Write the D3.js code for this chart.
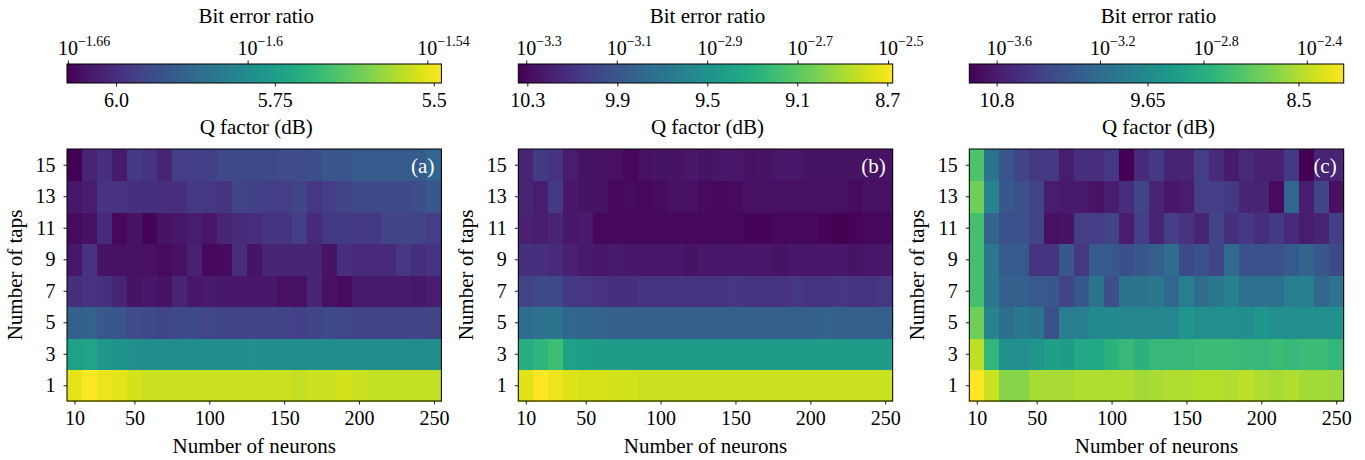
<!DOCTYPE html>
<html>
<head>
<meta charset="utf-8">
<script src="https://cdn.jsdelivr.net/npm/d3@7"></script>
<style>
  body { margin: 0; background: #fff; }
  svg { display: block; }
</style>
</head>
<body>
<svg id="chart" width="1365" height="460"></svg>
<script>
// ---------------- data ----------------
const neurons = [10,20,30,40,50,60,70,80,90,100,110,120,130,140,150,160,170,180,190,200,210,220,230,240,250];
const taps = [1,3,5,7,9,11,13,15];
const xTickValues = [10,50,100,150,200,250];

// Q factor (dB); one row per entry of `taps`, one column per entry of `neurons`
const qFactorA = [
  [5.512,5.488,5.506,5.512,5.529,5.535,5.535,5.535,5.535,5.535,5.535,5.535,5.535,5.535,5.535,5.541,5.535,5.535,5.529,5.535,5.541,5.541,5.541,5.541,5.541],
  [5.741,5.735,5.765,5.771,5.783,5.788,5.788,5.794,5.788,5.788,5.788,5.788,5.783,5.788,5.788,5.788,5.788,5.788,5.788,5.788,5.788,5.788,5.788,5.794,5.788],
  [5.900,5.894,5.918,5.924,5.942,5.947,5.959,5.947,5.947,5.953,5.959,5.959,5.959,5.959,5.959,5.965,5.959,5.947,5.953,5.959,5.959,5.959,5.959,5.959,5.959],
  [5.995,5.989,5.995,6.018,6.048,6.042,6.048,6.018,6.042,6.036,6.042,6.042,6.042,6.042,6.053,6.053,6.018,6.053,6.059,6.036,6.036,6.036,6.036,6.042,6.030],
  [6.042,5.989,6.048,6.053,6.053,6.053,6.059,6.053,6.024,6.065,6.059,6.000,6.048,6.018,6.018,6.018,6.018,6.048,5.995,6.006,6.006,6.012,5.983,5.995,5.989],
  [6.059,6.053,6.006,6.065,6.048,6.071,6.048,6.042,6.030,6.042,6.018,6.006,6.000,5.989,5.989,5.971,6.006,5.977,5.977,5.977,5.977,5.959,5.959,5.959,5.971],
  [6.042,6.030,5.989,5.989,5.995,5.995,6.000,5.995,5.977,5.983,5.989,5.959,5.965,5.971,5.971,5.959,5.983,5.971,5.959,5.947,5.947,5.947,5.947,5.936,5.918],
  [6.077,6.018,5.995,6.036,5.977,5.989,6.018,5.971,5.971,5.965,5.947,5.947,5.947,5.947,5.942,5.942,5.936,5.924,5.924,5.912,5.912,5.912,5.912,5.912,5.883]
];
const qFactorB = [
  [8.759,8.676,8.726,8.759,8.776,8.776,8.792,8.792,8.809,8.809,8.809,8.809,8.809,8.809,8.809,8.809,8.809,8.809,8.809,8.809,8.809,8.809,8.809,8.809,8.809],
  [9.308,9.258,9.192,9.392,9.408,9.425,9.425,9.425,9.425,9.425,9.425,9.425,9.425,9.425,9.425,9.425,9.425,9.425,9.425,9.425,9.425,9.425,9.425,9.425,9.425],
  [9.758,9.724,9.708,9.791,9.808,9.824,9.841,9.841,9.841,9.841,9.841,9.841,9.841,9.841,9.841,9.841,9.841,9.841,9.841,9.841,9.824,9.841,9.841,9.841,9.841],
  [10.007,9.974,9.974,10.057,10.074,10.090,10.107,10.107,10.090,10.090,10.090,10.090,10.090,10.090,10.074,10.090,10.090,10.090,10.074,10.090,10.090,10.074,10.090,10.090,10.074],
  [10.107,10.107,10.140,10.190,10.224,10.240,10.224,10.240,10.240,10.240,10.240,10.257,10.240,10.240,10.240,10.240,10.240,10.257,10.240,10.240,10.240,10.240,10.257,10.240,10.240],
  [10.190,10.207,10.174,10.240,10.224,10.307,10.307,10.307,10.307,10.307,10.307,10.307,10.307,10.307,10.307,10.323,10.323,10.307,10.307,10.307,10.323,10.340,10.323,10.307,10.307],
  [10.174,10.207,10.057,10.240,10.257,10.257,10.307,10.290,10.307,10.290,10.273,10.273,10.290,10.307,10.290,10.273,10.273,10.273,10.273,10.273,10.273,10.273,10.290,10.273,10.273],
  [10.174,10.057,10.090,10.207,10.257,10.257,10.273,10.307,10.273,10.257,10.257,10.240,10.257,10.240,10.240,10.273,10.257,10.240,10.240,10.257,10.257,10.257,10.257,10.257,10.257]
];
const qFactorC = [
  [8.155,8.383,8.669,8.669,8.526,8.526,8.526,8.497,8.497,8.497,8.497,8.554,8.526,8.497,8.497,8.469,8.469,8.497,8.440,8.497,8.526,8.497,8.554,8.554,8.583],
  [8.440,9.125,9.582,9.582,9.524,9.410,9.439,9.296,9.296,9.182,9.097,9.182,9.097,9.097,9.097,9.068,9.068,9.068,9.097,9.097,9.068,9.097,9.068,9.068,9.125],
  [8.783,9.724,9.981,9.867,9.924,10.295,9.810,9.810,9.667,9.667,9.696,9.696,9.696,9.696,9.524,9.582,9.582,9.582,9.610,9.524,9.582,9.582,9.582,9.582,9.582],
  [9.011,9.867,10.152,10.152,10.209,10.238,10.437,10.238,9.924,10.323,9.924,9.924,9.867,10.067,9.810,10.010,9.867,9.781,9.952,9.952,9.952,9.810,9.781,10.067,9.924],
  [9.011,9.867,10.209,10.209,10.580,10.580,10.238,10.552,10.209,10.209,10.323,10.238,10.152,10.010,10.380,10.295,10.437,10.038,10.295,10.295,10.295,10.209,10.095,10.238,10.380],
  [9.011,10.095,10.295,10.295,10.437,10.894,10.865,10.494,10.494,10.437,10.780,10.494,10.723,10.494,10.580,10.723,10.437,10.609,10.523,10.637,10.523,10.666,10.780,10.723,10.494],
  [8.783,9.724,10.238,10.295,10.437,10.780,10.808,10.808,10.865,10.780,10.637,10.437,10.723,10.837,10.780,10.494,10.494,10.523,10.723,10.723,10.922,10.067,10.780,10.437,10.894],
  [8.954,9.924,10.266,10.437,10.552,10.523,10.780,10.609,10.637,10.552,11.008,10.666,10.523,10.723,10.723,10.494,10.666,10.808,10.666,10.751,10.751,10.523,11.008,10.723,10.723]
];

// colour-bar ticks: Q factor (bottom) and log10 of bit error ratio (top)
const qTicksA = [6.0, 5.75, 5.5];
const qTickLabelsA = ["6.0", "5.75", "5.5"];
const qTicksB = [10.3, 9.9, 9.5, 9.1, 8.7];
const qTickLabelsB = ["10.3", "9.9", "9.5", "9.1", "8.7"];
const qTicksC = [10.8, 9.65, 8.5];
const qTickLabelsC = ["10.8", "9.65", "8.5"];
const berExpTicksA = [-1.66, -1.6, -1.54];
const berExpTicksB = [-3.3, -3.1, -2.9, -2.7, -2.5];
const berExpTicksC = [-3.6, -3.2, -2.8, -2.4];
// log10(BER) at the two ends of each colour bar
const berExpRangeA = [-1.6603, -1.5353];
const berExpRangeB = [-3.3177, -2.4896];
const berExpRangeC = [-3.7057, -2.2573];

const panelLabels = ["(a)", "(b)", "(c)"];

// ---------------- layout ----------------
const SERIF = "'Liberation Serif', 'Times New Roman', serif";
const panels = [
  { left: 67,    values: qFactorA, qTicks: qTicksA, qLabels: qTickLabelsA, berTicks: berExpTicksA, berRange: berExpRangeA, label: panelLabels[0] },
  { left: 518.3, values: qFactorB, qTicks: qTicksB, qLabels: qTickLabelsB, berTicks: berExpTicksB, berRange: berExpRangeB, label: panelLabels[1] },
  { left: 969.3, values: qFactorC, qTicks: qTicksC, qLabels: qTickLabelsC, berTicks: berExpTicksC, berRange: berExpRangeC, label: panelLabels[2] }
];
const W = 374.4;
const heatTop = 149, heatH = 252;
const barTop = 64, barH = 19;
const tickFont = 20, labelFont = 21;

const svg = d3.select("#chart");
const defs = svg.append("defs");

function styleAxis(sel) {
  sel.attr("font-family", null).attr("font-size", null);
  sel.select(".domain").remove();
  sel.selectAll(".tick line").attr("stroke", "#000").attr("stroke-width", 0.9);
  sel.selectAll(".tick text")
    .style("font-family", SERIF)
    .style("font-size", tickFont + "px")
    .attr("fill", "#000");
}

function label(g, txt, size) {
  return g.append("text").text(txt)
    .style("font-family", SERIF).style("font-size", size + "px").attr("fill", "#000");
}

panels.forEach((p, pi) => {
  const g = svg.append("g");
  const x0 = p.left, x1 = p.left + W;

  const x = d3.scaleLinear().domain([5, 255]).range([x0, x1]);
  const y = d3.scaleLinear().domain([0, 16]).range([heatTop + heatH, heatTop]);
  const [qMin, qMax] = d3.extent(p.values.flat());
  const color = d3.scaleSequential(d3.interpolateViridis).domain([qMax, qMin]);

  // heatmap cells
  const cells = [];
  p.values.forEach((row, i) => row.forEach((v, j) => cells.push({ t: taps[i], n: neurons[j], v })));
  g.append("g").attr("shape-rendering", "crispEdges")
    .selectAll("rect").data(cells).join("rect")
    .attr("x", d => x(d.n - 5))
    .attr("y", d => y(d.t + 1))
    .attr("width", d => x(d.n + 5) - x(d.n - 5) + 0.5)
    .attr("height", d => y(d.t - 1) - y(d.t + 1) + 0.5)
    .attr("fill", d => color(d.v));

  // frame
  g.append("rect").attr("x", x0).attr("y", heatTop).attr("width", W).attr("height", heatH)
    .attr("fill", "none").attr("stroke", "#000").attr("stroke-width", 1);

  // x axis
  g.append("g").attr("transform", `translate(0,${heatTop + heatH})`)
    .call(d3.axisBottom(x).tickValues(xTickValues).tickSize(3.5).tickPadding(6))
    .call(styleAxis);

  // y axis
  g.append("g").attr("transform", `translate(${x0},0)`)
    .call(d3.axisLeft(y).tickValues(taps).tickSize(3.5).tickPadding(8))
    .call(styleAxis);

  // axis titles
  label(g, "Number of neurons", labelFont)
    .attr("x", (x0 + x1) / 2).attr("y", 453).attr("text-anchor", "middle");
  label(g, "Number of taps", labelFont)
    .attr("transform", `translate(${x0 - 45},${heatTop + heatH / 2}) rotate(-90)`)
    .attr("text-anchor", "middle");

  // panel tag
  label(g, p.label, labelFont)
    .attr("x", x1 - 7).attr("y", heatTop + 23.5)
    .attr("text-anchor", "end").attr("fill", "#fff");

  // colour bar
  const q = d3.scaleLinear().domain([qMax, qMin]).range([x0, x1]);
  const gradId = "grad" + pi;
  const grad = defs.append("linearGradient").attr("id", gradId)
    .attr("x1", "0%").attr("x2", "100%").attr("y1", "0%").attr("y2", "0%");
  d3.range(0, 1.0001, 0.02).forEach(f => {
    grad.append("stop").attr("offset", (f * 100) + "%")
      .attr("stop-color", color(qMax + f * (qMin - qMax)));
  });
  g.append("rect").attr("x", x0).attr("y", barTop).attr("width", W).attr("height", barH)
    .attr("fill", `url(#${gradId})`).attr("stroke", "#000").attr("stroke-width", 1);

  // Q factor axis (below the bar)
  g.append("g").attr("transform", `translate(0,${barTop + barH})`)
    .call(d3.axisBottom(q).tickValues(p.qTicks).tickSize(3.5).tickPadding(6)
      .tickFormat((d, i) => p.qLabels[i]))
    .call(styleAxis);
  label(g, "Q factor (dB)", labelFont)
    .attr("x", (x0 + x1) / 2 + 2).attr("y", 133.5).attr("text-anchor", "middle");

  // bit error ratio axis (above the bar)
  const ber = d3.scaleLog().domain(p.berRange.map(e => Math.pow(10, e))).range([x0, x1]);
  const berAxis = g.append("g").attr("transform", `translate(0,${barTop})`)
    .call(d3.axisTop(ber).tickValues(p.berTicks.map(e => Math.pow(10, e))).tickSize(3.5).tickFormat(""))
    .call(styleAxis);
  berAxis.selectAll(".tick").each(function (d, i) {
    const t = d3.select(this).append("text")
      .attr("x", -10.5).attr("y", -9.5).attr("text-anchor", "start")
      .attr("fill", "#000")
      .style("font-family", SERIF).style("font-size", tickFont + "px");
    t.append("tspan").text("10");
    t.append("tspan").attr("dy", -8.5).style("font-size", "14px")
      .text("\u2212" + String(Math.abs(p.berTicks[i])));
  });
  label(g, "Bit error ratio", labelFont)
    .attr("x", (x0 + x1) / 2 + 2).attr("y", 23).attr("text-anchor", "middle");
});
</script>
</body>
</html>
